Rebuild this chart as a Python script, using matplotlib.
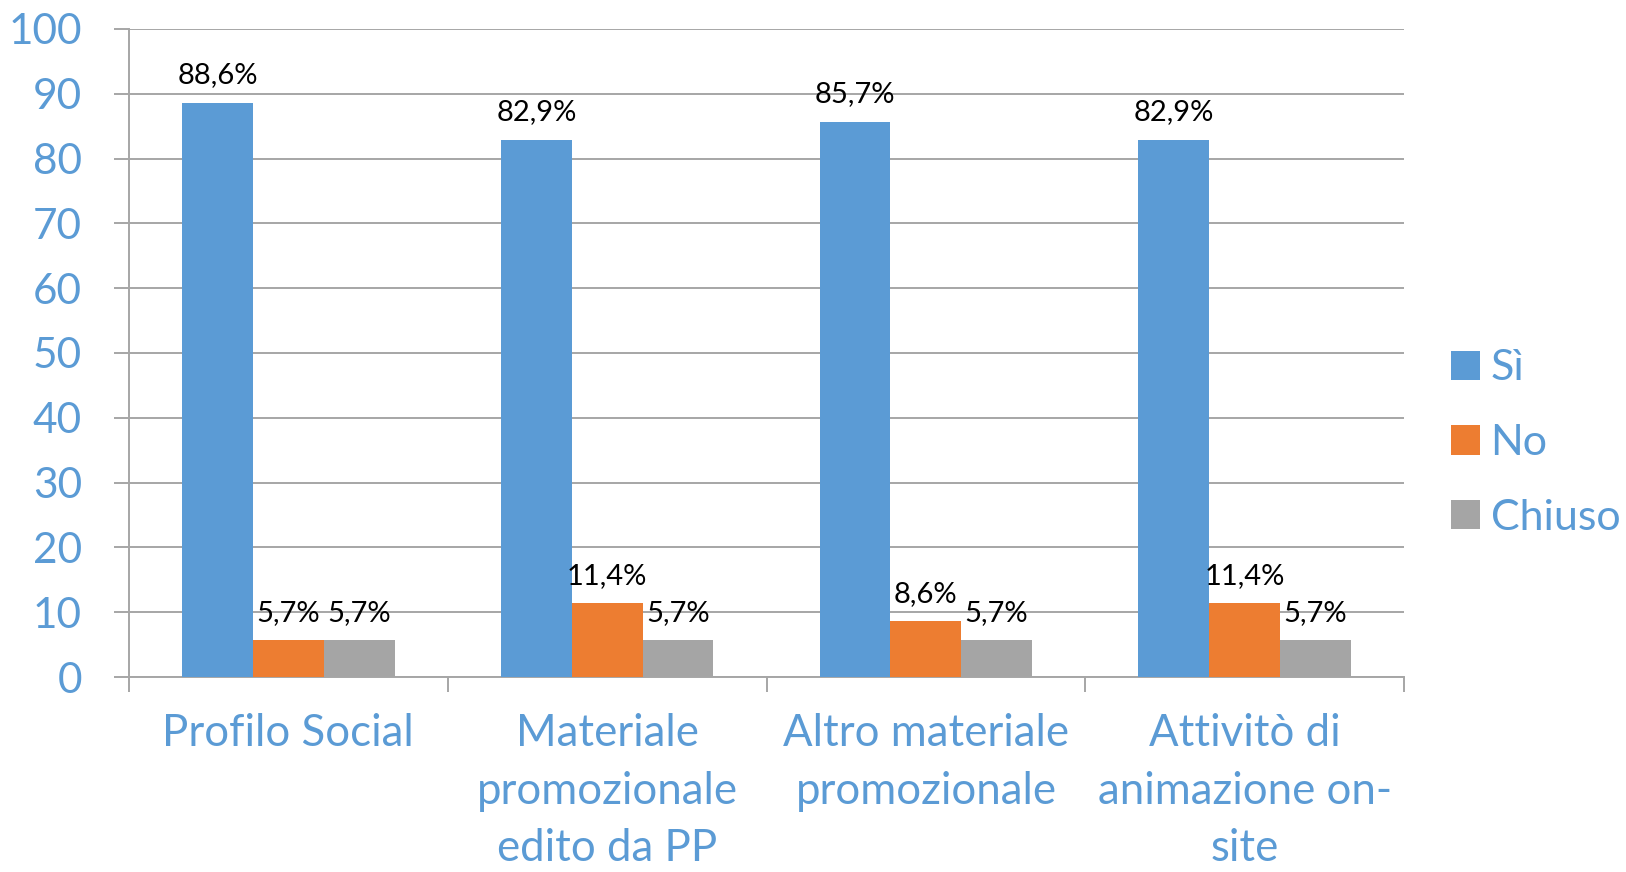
import matplotlib.pyplot as plt
import numpy as np

plt.rcParams['font.family'] = ['Lato', 'DejaVu Sans']

# Data
categories = ['Profilo Social', 'Materiale\npromozionale\nedito da PP',
              'Altro materiale\npromozionale', 'Attivitò di\nanimazione on-\nsite']
series_names = ['Sì', 'No', 'Chiuso']
si = [88.6, 82.9, 85.7, 82.9]
no = [5.7, 11.4, 8.6, 11.4]
chiuso = [5.7, 5.7, 5.7, 5.7]
yticks = list(range(0, 101, 10))

colors = ['#5B9BD5', '#ED7D31', '#A5A5A5']
text_blue = '#5B9BD5'
grid_col = '#A6A6A6'

fig = plt.figure(figsize=(16.26, 8.72), dpi=100)
ax = fig.add_axes([129 / 1626, 1 - 677 / 872, (1404 - 129) / 1626, (677 - 29) / 872])

x = np.arange(len(categories))
width = 0.222
for i, (vals, name) in enumerate(zip([si, no, chiuso], series_names)):
    bars = ax.bar(x + (i - 1) * width, vals, width, color=colors[i], label=name, zorder=3)
    for bar, v in zip(bars, vals):
        ax.annotate(f'{v:.1f}%'.replace('.', ','),
                    (bar.get_x() + bar.get_width() / 2, v),
                    xytext=(0, 14), textcoords='offset points',
                    ha='center', va='baseline', fontsize=21, color='black', zorder=4)

ax.set_xlim(-0.5, len(categories) - 0.5)
ax.set_ylim(0, 100)
ax.set_yticks(yticks)
ax.set_yticklabels([str(t) for t in yticks])
ax.grid(axis='y', color=grid_col, linewidth=1.4, zorder=0)

# category labels at centers, tick marks at category boundaries
ax.set_xticks(x)
ax.set_xticklabels(categories, linespacing=1.5)
ax.set_xticks(np.arange(-0.5, len(categories)), minor=True)
ax.tick_params(axis='x', which='major', length=0, pad=26, labelsize=31.5, labelcolor=text_blue)
ax.tick_params(axis='x', which='minor', length=11, width=1.4, color=grid_col)
ax.tick_params(axis='y', length=11, width=1.4, color=grid_col, pad=23, labelsize=30.5,
               labelcolor=text_blue)

for s in ['top', 'right']:
    ax.spines[s].set_visible(False)
for s in ['left', 'bottom']:
    ax.spines[s].set_color(grid_col)
    ax.spines[s].set_linewidth(1.4)

fig.legend(loc='center left', bbox_to_anchor=(1451 / 1626, 1 - 443 / 872),
           frameon=False, fontsize=31, labelcolor=text_blue,
           handlelength=0.67, handleheight=0.67, handletextpad=0.25,
           labelspacing=0.85, borderpad=0, borderaxespad=0)

fig.savefig('out.png', dpi=100)
